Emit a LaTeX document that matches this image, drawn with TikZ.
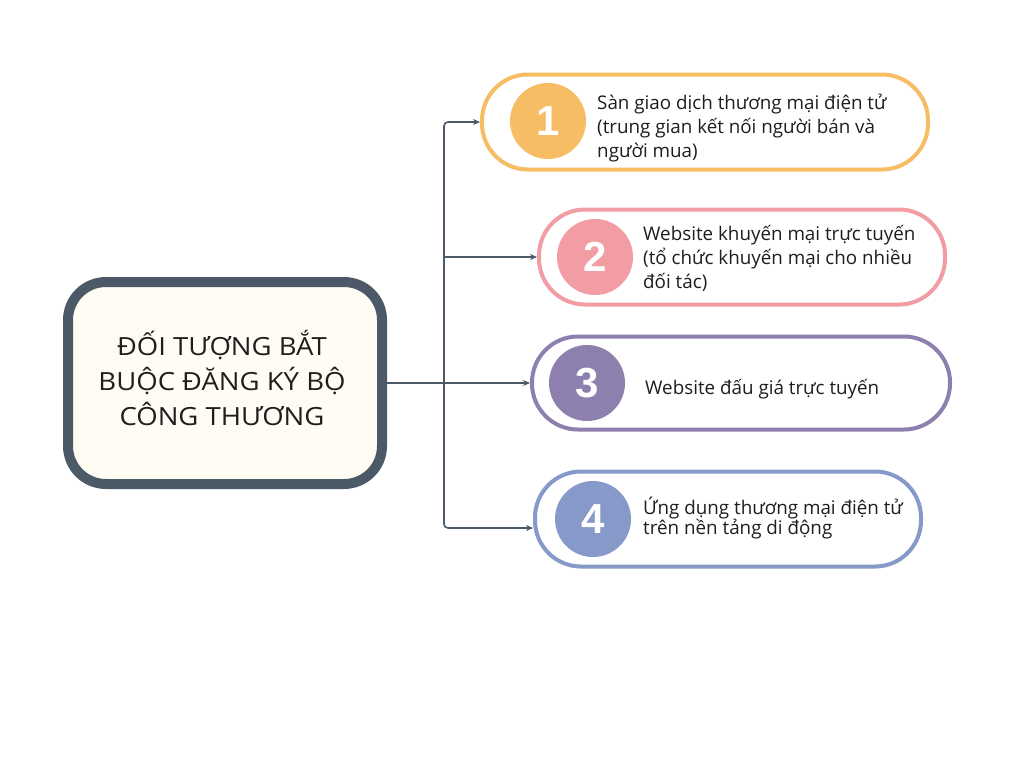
\documentclass[tikz,border=0pt]{standalone}
\usepackage{fontspec}
\setmainfont{Open Sans}
\newfontfamily\boxfont{Open Sans}[FakeStretch=1.1]
\newfontfamily\numfont{Liberation Sans}
\usetikzlibrary{arrows.meta,positioning}
\definecolor{slate}{HTML}{4B5A66}
\definecolor{cream}{HTML}{FFFCF3}
\definecolor{corange}{HTML}{F6BD65}
\definecolor{cpink}{HTML}{F29CA4}
\definecolor{cpurple}{HTML}{8E80AE}
\definecolor{cblue}{HTML}{8799C9}
\definecolor{ink}{HTML}{1E1E1E}

\begin{document}
\begin{tikzpicture}[x=1pt,y=-1pt,
	pill/.style={draw,rounded corners=46pt,line width=4pt,fill=white,minimum height=95pt},
	numc/.style={circle,minimum size=76pt,inner sep=0pt,text=white,font=\numfont\bfseries\fontsize{42}{42}\selectfont},
	itxt/.style={anchor=west,align=left,inner sep=0pt,text=ink,font=\fontsize{18.8}{24}\selectfont},
	arr/.style={draw=slate,line width=1.6pt,-{Stealth[length=7pt,width=6pt]}}]
\useasboundingbox[fill=white] (0,0) rectangle (1024,768);
% main box
\node[draw=slate,line width=10pt,fill=cream,rounded corners=38pt,minimum width=314pt,minimum height=202pt] (main) at (225,383) {};
\node[align=center,inner sep=0pt,text=ink,font=\boxfont\fontsize{25}{35}\selectfont] (mtxt) at (222,378) {ĐỐI TƯỢNG BẮT\\BUỘC ĐĂNG KÝ BỘ\\CÔNG THƯƠNG};
% items
\node[pill,draw=corange,minimum width=446pt] (b1) at (705,122) {};
\node[pill,draw=cpink,minimum width=406pt] (b2) at (742,257) {};
\node[pill,draw=cpurple,minimum width=418pt,minimum height=93pt] (b3) at (741,383) {};
\node[pill,draw=cblue,minimum width=386pt] (b4) at (728,519) {};
\node[numc,fill=corange] (n1) at (548,121) {1};
\node[numc,fill=cpink] (n2) at (595,257) {2};
\node[numc,fill=cpurple] (n3) at (587,383) {3};
\node[numc,fill=cblue] (n4) at (593,519) {4};
\node[itxt] (t1) at (597,128) {Sàn giao dịch thương mại điện tử\\(trung gian kết nối người bán và\\người mua)};
\node[itxt] (t2) at (643,258) {Website khuyến mại trực tuyến\\(tổ chức khuyến mại cho nhiều\\đối tác)};
\node[itxt] (t3) at (645,389) {Website đấu giá trực tuyến};
\node[itxt,font=\fontsize{18.8}{20}\selectfont] (t4) at (643,518) {Ứng dụng thương mại điện tử\\trên nền tảng di động};
% connectors
\coordinate (split) at (444,383);
\draw[draw=slate,line width=1.6pt] (main.east) -- (split);
\draw[arr,rounded corners=4pt] (split) |- (b1.west);
\draw[arr,rounded corners=4pt] (split) |- ([yshift=-9pt]b4.west);
\draw[arr] (split) -- (b3.west);
\draw[arr] (split |- b2.west) -- (b2.west);
\end{tikzpicture}
\end{document}
